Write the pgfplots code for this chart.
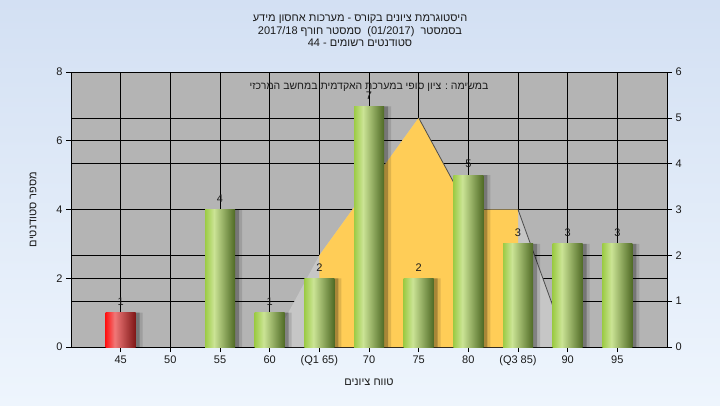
\documentclass[border=0pt]{standalone}
\usepackage{pgfplots}
\pgfplotsset{compat=1.18}
\usepackage{fontspec}
\setmainfont{Liberation Sans}
\newfontfamily\hebfont[Script=Hebrew]{Liberation Sans}
\TeXXeTstate=1
\definecolor{bgtop}{HTML}{D3E0F3}
\definecolor{bgbot}{HTML}{EEF5FD}
\definecolor{plotbg}{HTML}{B4B4B4}
\definecolor{lgray}{HTML}{C6C6C6}
\definecolor{yel}{HTML}{FFCD57}
\definecolor{gA}{HTML}{9CCB45}
\definecolor{gB}{HTML}{CBE495}
\definecolor{gC}{HTML}{4F6A25}
\definecolor{rA}{HTML}{FF1414}
\definecolor{rB}{HTML}{F07878}
\definecolor{rC}{HTML}{7E1616}
\definecolor{txt}{HTML}{1A1A1A}
\pgfdeclarehorizontalshading{greenbar}{100bp}{color(0bp)=(gA); color(25bp)=(gA); color(40bp)=(gB); color(75bp)=(gC); color(100bp)=(gC)}
\pgfdeclarehorizontalshading{redbar}{100bp}{color(0bp)=(rA); color(25bp)=(rA); color(40bp)=(rB); color(75bp)=(rC); color(100bp)=(rC)}
\pgfplotsset{
  common/.style={
    at={(71pt,58pt)}, anchor=south west, scale only axis,
    width=596pt, height=275pt, xmin=-1, xmax=11,
    /pgf/number format/assume math mode=true,
    tick label style={font=\fontsize{11}{13}\selectfont, text=txt},
    grid style={black, line width=0.6pt},
    tick style={black, line width=0.6pt},
    axis line style={black, line width=0.6pt},
    tick align=outside, major tick length=5pt,
  },
  gbar/.style={ybar, bar width=30pt, bar shift=0pt, draw=none, shading=greenbar},
  rbar/.style={ybar, bar width=30pt, bar shift=0pt, draw=none, shading=redbar},
}
\begin{document}
\begin{tikzpicture}
\shade[top color=bgtop, bottom color=bgbot] (0,0) rectangle (720pt,405pt);
\useasboundingbox (0,0) rectangle (720pt,405pt);
% base axis: left scale, grid, background
\begin{axis}[common,
  ymin=0, ymax=8, ytick={0,2,4,6,8},
  axis lines*=left,
  axis background/.style={fill=plotbg},
  xtick={0,...,10},
  xticklabels={45,50,55,60,(Q1 65),70,75,80,(Q3 85),90,95},
  grid=major,
  xlabel={\hebfont\beginR טווח ציונים\endR},
  xlabel style={font=\fontsize{11}{13}\selectfont, text=txt, yshift=-6pt},
  ylabel={\hebfont\beginR מספר סטודנטים\endR},
  ylabel style={font=\fontsize{11}{13}\selectfont, text=txt, yshift=13pt},
]
\addplot[draw=none, mark=none] coordinates {(0,0)};
\end{axis}
% right axis with area
\begin{axis}[common,
  ymin=0, ymax=6, ytick={0,...,6},
  axis y line*=right, axis x line=none,
  ymajorgrids,
]
\addplot[fill=lgray, draw=none] coordinates {(3,0)(4,2)(6,5)(7,3)(8,3)(9,0)};
\addplot[fill=yel, draw=none] coordinates {(4,0)(4,2)(6,5)(7,3)(8,3)(8,0)};
\addplot[draw=black!70, line width=0.8pt, mark=none] coordinates {(6,5)(7,3)};
\addplot[draw=black!70, line width=0.8pt, mark=none] coordinates {(8,3)(9,0)};
\end{axis}
% bars
\begin{axis}[common, ymin=0, ymax=8, hide axis, clip=false]
\addplot[ybar, bar width=30pt, bar shift=7pt, fill=black, draw=none, opacity=0.12]
  coordinates {(0,1)(2,4)(3,1)(4,2)(5,7)(6,2)(7,5)(8,3)(9,3)(10,3)};
\addplot[ybar, bar width=30pt, bar shift=4pt, fill=black, draw=none, opacity=0.25]
  coordinates {(0,1)(2,4)(3,1)(4,2)(5,7)(6,2)(7,5)(8,3)(9,3)(10,3)};
\addplot[rbar] coordinates {(0,1)};
\addplot[gbar] coordinates {(2,4)};
\addplot[gbar] coordinates {(3,1)};
\addplot[gbar] coordinates {(4,2)};
\addplot[gbar] coordinates {(5,7)};
\addplot[gbar] coordinates {(6,2)};
\addplot[gbar] coordinates {(7,5)};
\addplot[gbar] coordinates {(8,3)};
\addplot[gbar] coordinates {(9,3)};
\addplot[gbar] coordinates {(10,3)};
\addplot[draw=none, mark=none, nodes near coords, point meta=y,
  every node near coord/.append style={font=\fontsize{11}{13}\selectfont, text=txt, anchor=south, inner sep=2pt, yshift=5pt}]
  coordinates {(0,1)(2,4)(3,1)(4,2)(5,7)(6,2)(7,5)(8,3)(9,3)(10,3)};
\node[font=\hebfont\fontsize{10.5}{13}\selectfont, text=txt] at (axis cs:5,7.55) {\beginR במשימה : ציון סופי במערכת האקדמית במחשב המרכזי\endR};
\end{axis}
\node[font=\hebfont\fontsize{11}{12.5}\selectfont, text=txt, align=center, anchor=center] at (360pt,374pt)
  {\beginR היסטוגרמת ציונים בקורס - מערכות אחסון מידע\endR\\
   2017/18 \beginR סמסטר חורף\endR\ \ (01/2017)\ \ \beginR בסמסטר\endR\\
   44 - \beginR סטודנטים רשומים\endR};
\end{tikzpicture}
\end{document}
